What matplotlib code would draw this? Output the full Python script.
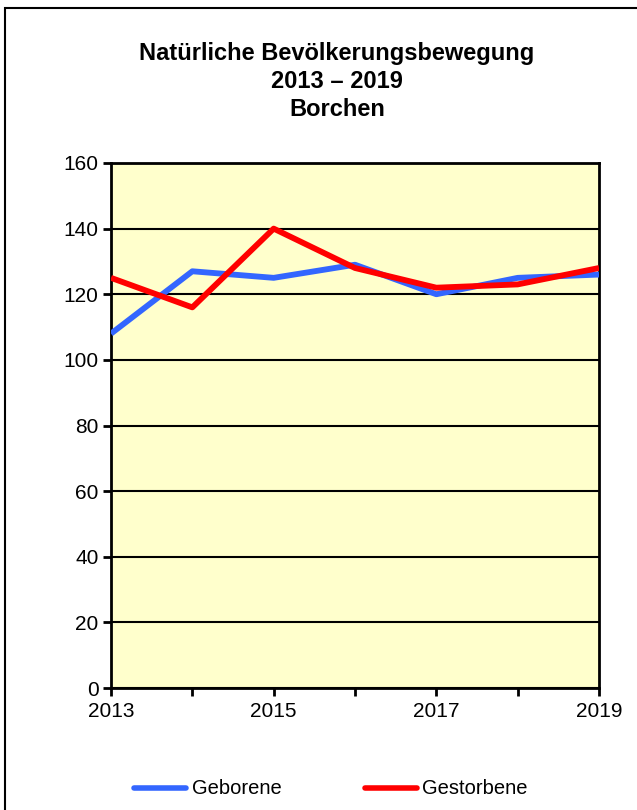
import matplotlib
matplotlib.use("Agg")
import matplotlib.pyplot as plt
from matplotlib.patches import Rectangle
from matplotlib.lines import Line2D

plt.rcParams['font.family'] = ['Liberation Sans', 'DejaVu Sans']

years = [2013, 2014, 2015, 2016, 2017, 2018, 2019]
geborene = [108, 127, 125, 129, 120, 125, 126]
gestorbene = [125, 116, 140, 128, 122, 123, 128]
yticks = [0, 20, 40, 60, 80, 100, 120, 140, 160]
xticklabels = [2013, 2015, 2017, 2019]

W, H = 637, 810
fig = plt.figure(figsize=(W / 100, H / 100), dpi=100)
fig.patch.set_facecolor('white')

# outer chart frame
fig.add_artist(Rectangle((5 / W, -0.01), 1.0, 1 - 8 / H + 0.01, transform=fig.transFigure,
                         fill=False, edgecolor='black', linewidth=1.5))

ax = fig.add_axes([111 / W, 1 - 688 / H, (599 - 111) / W, (688 - 163) / H])
ax.set_facecolor('#FFFFCC')
ax.plot(years, geborene, color='#3366FF', linewidth=4.2, solid_capstyle='butt', zorder=3)
ax.plot(years, gestorbene, color='#FF0000', linewidth=4.2, solid_capstyle='butt', zorder=4)

ax.set_xlim(2013, 2019)
ax.set_ylim(0, 160)
ax.set_yticks(yticks)
ax.set_xticks(years)
ax.set_xticklabels([str(y) if y in xticklabels else '' for y in years])
ax.grid(axis='y', color='black', linewidth=1.5)
ax.set_axisbelow(True)
for s in ax.spines.values():
    s.set_linewidth(2)
    s.set_color('black')
ax.tick_params(axis='both', direction='out', length=6, width=2, labelsize=15, color='black')
ax.tick_params(axis='x', pad=4)
ax.tick_params(axis='y', pad=3)

fig.text(337 / W, 1 - 81.5 / H, 'Natürliche Bevölkerungsbewegung\n2013 – 2019\nBorchen',
         ha='center', va='center', fontsize=17, fontweight='bold', linespacing=1.28)

# legend
ly = 1 - 788 / H
fig.add_artist(Line2D([134 / W, 186 / W], [ly, ly], color='#3366FF', linewidth=4,
                      solid_capstyle='round', transform=fig.transFigure))
fig.text(192 / W, ly, 'Geborene', ha='left', va='center', fontsize=14.5)
fig.add_artist(Line2D([365 / W, 417 / W], [ly, ly], color='#FF0000', linewidth=4,
                      solid_capstyle='round', transform=fig.transFigure))
fig.text(422 / W, ly, 'Gestorbene', ha='left', va='center', fontsize=14.5)

fig.savefig('out.png', dpi=100)
